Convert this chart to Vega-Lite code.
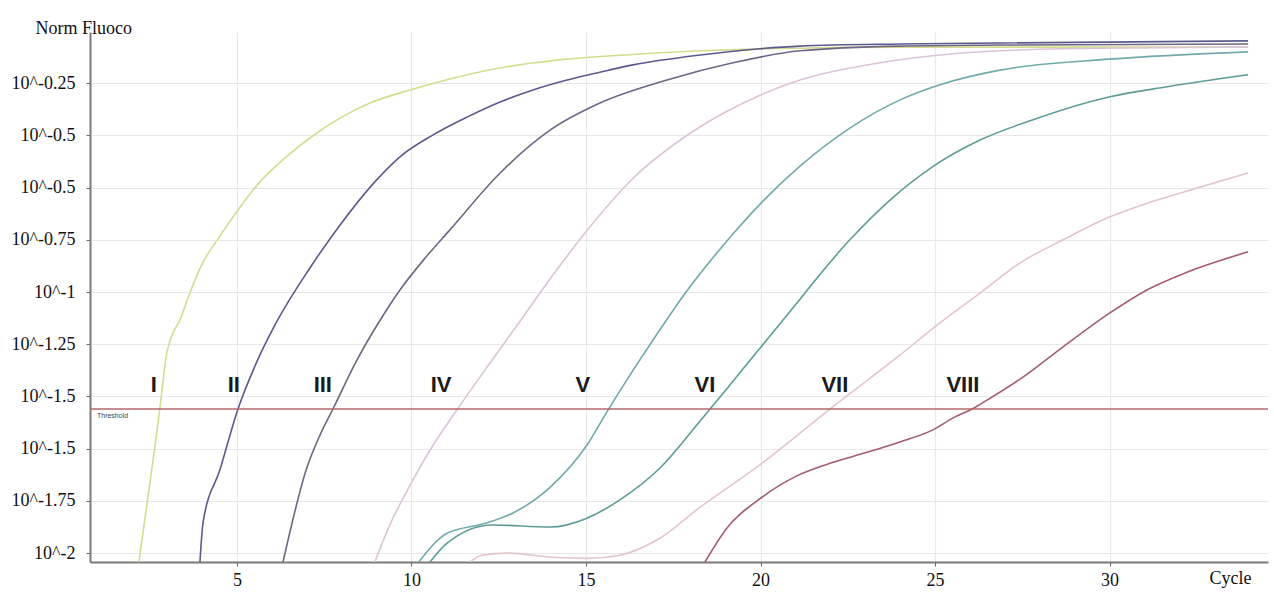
{
  "$schema": "https://vega.github.io/schema/vega-lite/v6.json",
  "width": 1178,
  "height": 530,
  "autosize": "none",
  "padding": {"left": 90, "top": 32, "right": 6, "bottom": 30},
  "background": "white",
  "config": {"view": {"stroke": null}, "font": "Liberation Serif"},
  "datasets": {
    "curves": [
      {"s":"I","c":2.19,"u":-0.17},{"s":"I","c":2.79,"u":2.76},{"s":"I","c":2.99,"u":3.83},{"s":"I","c":3.40,"u":4.52},{"s":"I","c":3.65,"u":4.98},{"s":"I","c":3.99,"u":5.52},{"s":"I","c":4.51,"u":6.07},{"s":"I","c":5.03,"u":6.57},{"s":"I","c":5.66,"u":7.11},{"s":"I","c":6.38,"u":7.57},{"s":"I","c":7.09,"u":7.95},{"s":"I","c":7.95,"u":8.33},{"s":"I","c":8.81,"u":8.62},{"s":"I","c":9.96,"u":8.87},{"s":"I","c":11.10,"u":9.08},{"s":"I","c":12.05,"u":9.23},{"s":"I","c":13.40,"u":9.38},{"s":"I","c":14.46,"u":9.46},{"s":"I","c":16.35,"u":9.55},{"s":"I","c":18.27,"u":9.62},{"s":"I","c":21.13,"u":9.67},{"s":"I","c":24.0,"u":9.69},{"s":"I","c":30.5,"u":9.69},{"s":"I","c":33.97,"u":9.69},
      {"s":"II","c":3.94,"u":-0.17},{"s":"II","c":4.03,"u":0.59},{"s":"II","c":4.51,"u":1.59},{"s":"II","c":5.03,"u":2.76},{"s":"II","c":5.54,"u":3.62},{"s":"II","c":6.09,"u":4.37},{"s":"II","c":7.09,"u":5.46},{"s":"II","c":7.95,"u":6.28},{"s":"II","c":8.95,"u":7.11},{"s":"II","c":9.67,"u":7.59},{"s":"II","c":10.62,"u":8.01},{"s":"II","c":11.59,"u":8.35},{"s":"II","c":12.54,"u":8.64},{"s":"II","c":13.48,"u":8.87},{"s":"II","c":14.46,"u":9.06},{"s":"II","c":15.40,"u":9.21},{"s":"II","c":16.35,"u":9.35},{"s":"II","c":18.27,"u":9.54},{"s":"II","c":19.99,"u":9.66},{"s":"II","c":21.13,"u":9.71},{"s":"II","c":24.0,"u":9.75},{"s":"II","c":26.86,"u":9.77},{"s":"II","c":33.97,"u":9.81},
      {"s":"III","c":6.32,"u":-0.17},{"s":"III","c":7.01,"u":1.65},{"s":"III","c":7.38,"u":2.26},{"s":"III","c":7.75,"u":2.76},{"s":"III","c":8.44,"u":3.70},{"s":"III","c":9.10,"u":4.46},{"s":"III","c":9.67,"u":5.04},{"s":"III","c":10.39,"u":5.65},{"s":"III","c":11.10,"u":6.19},{"s":"III","c":12.54,"u":7.28},{"s":"III","c":13.97,"u":8.10},{"s":"III","c":15.40,"u":8.62},{"s":"III","c":17.32,"u":9.06},{"s":"III","c":19.21,"u":9.39},{"s":"III","c":21.13,"u":9.62},{"s":"III","c":24.0,"u":9.71},{"s":"III","c":26.86,"u":9.73},{"s":"III","c":33.97,"u":9.75},
      {"s":"IV","c":8.95,"u":-0.17},{"s":"IV","c":9.38,"u":0.54},{"s":"IV","c":9.96,"u":1.30},{"s":"IV","c":10.53,"u":1.97},{"s":"IV","c":11.30,"u":2.74},{"s":"IV","c":12.25,"u":3.64},{"s":"IV","c":13.11,"u":4.44},{"s":"IV","c":13.97,"u":5.25},{"s":"IV","c":14.97,"u":6.13},{"s":"IV","c":16.35,"u":7.18},{"s":"IV","c":18.07,"u":8.08},{"s":"IV","c":19.99,"u":8.77},{"s":"IV","c":21.13,"u":9.06},{"s":"IV","c":23.42,"u":9.39},{"s":"IV","c":25.14,"u":9.54},{"s":"IV","c":26.86,"u":9.62},{"s":"IV","c":29.73,"u":9.67},{"s":"IV","c":33.97,"u":9.69},
      {"s":"V","c":10.21,"u":-0.17},{"s":"V","c":11.02,"u":0.38},{"s":"V","c":12.11,"u":0.57},{"s":"V","c":12.91,"u":0.77},{"s":"V","c":13.97,"u":1.26},{"s":"V","c":15.03,"u":2.07},{"s":"V","c":15.63,"u":2.74},{"s":"V","c":16.26,"u":3.41},{"s":"V","c":16.98,"u":4.14},{"s":"V","c":17.78,"u":4.92},{"s":"V","c":19.21,"u":6.11},{"s":"V","c":20.07,"u":6.74},{"s":"V","c":21.13,"u":7.41},{"s":"V","c":22.56,"u":8.14},{"s":"V","c":24.0,"u":8.68},{"s":"V","c":25.14,"u":8.97},{"s":"V","c":26.86,"u":9.25},{"s":"V","c":30.01,"u":9.46},{"s":"V","c":33.97,"u":9.60},
      {"s":"VI","c":10.53,"u":-0.17},{"s":"VI","c":11.02,"u":0.19},{"s":"VI","c":12.31,"u":0.54},{"s":"VI","c":13.97,"u":0.50},{"s":"VI","c":15.03,"u":0.67},{"s":"VI","c":15.97,"u":1.02},{"s":"VI","c":17.12,"u":1.63},{"s":"VI","c":18.27,"u":2.53},{"s":"VI","c":19.21,"u":3.29},{"s":"VI","c":20.64,"u":4.46},{"s":"VI","c":22.56,"u":6.00},{"s":"VI","c":23.71,"u":6.76},{"s":"VI","c":25.0,"u":7.43},{"s":"VI","c":26.29,"u":7.91},{"s":"VI","c":27.81,"u":8.30},{"s":"VI","c":30.01,"u":8.74},{"s":"VI","c":31.65,"u":8.93},{"s":"VI","c":33.97,"u":9.16},
      {"s":"VII","c":11.68,"u":-0.17},{"s":"VII","c":12.02,"u":-0.04},{"s":"VII","c":12.74,"u":0.0},{"s":"VII","c":14.05,"u":-0.08},{"s":"VII","c":15.03,"u":-0.10},{"s":"VII","c":15.97,"u":-0.04},{"s":"VII","c":17.03,"u":0.25},{"s":"VII","c":18.27,"u":0.88},{"s":"VII","c":20.04,"u":1.72},{"s":"VII","c":21.99,"u":2.76},{"s":"VII","c":23.99,"u":3.79},{"s":"VII","c":25.14,"u":4.41},{"s":"VII","c":26.29,"u":4.98},{"s":"VII","c":27.44,"u":5.56},{"s":"VII","c":28.67,"u":6.00},{"s":"VII","c":30.01,"u":6.44},{"s":"VII","c":31.07,"u":6.70},{"s":"VII","c":32.5,"u":6.99},{"s":"VII","c":33.97,"u":7.28},
      {"s":"VIII","c":18.41,"u":-0.17},{"s":"VIII","c":19.04,"u":0.48},{"s":"VIII","c":20.04,"u":1.07},{"s":"VIII","c":21.04,"u":1.48},{"s":"VIII","c":22.08,"u":1.74},{"s":"VIII","c":23.05,"u":1.93},{"s":"VIII","c":23.99,"u":2.13},{"s":"VIII","c":24.94,"u":2.36},{"s":"VIII","c":25.52,"u":2.59},{"s":"VIII","c":26.06,"u":2.76},{"s":"VIII","c":26.49,"u":2.93},{"s":"VIII","c":27.52,"u":3.37},{"s":"VIII","c":28.67,"u":3.95},{"s":"VIII","c":30.01,"u":4.60},{"s":"VIII","c":31.07,"u":5.04},{"s":"VIII","c":32.22,"u":5.38},{"s":"VIII","c":33.97,"u":5.77}
    ],
    "numerals": [
      {"t":"I","c":2.62,"u":3.22},{"t":"II","c":4.91,"u":3.22},{"t":"III","c":7.46,"u":3.22},{"t":"IV","c":10.85,"u":3.22},{"t":"V","c":14.91,"u":3.22},{"t":"VI","c":18.41,"u":3.22},{"t":"VII","c":22.13,"u":3.22},{"t":"VIII","c":25.80,"u":3.22}
    ],
    "threshold": [{"u":2.76}],
    "thresholdLabel": [{"c":0.99,"u":2.62,"t":"Threshold"}]
  },
  "layer": [
    {
      "data": {"name": "curves"},
      "mark": {"type": "line", "strokeWidth": 1.6, "clip": true, "interpolate": "monotone"},
      "encoding": {
        "x": {"field": "c", "type": "quantitative", "scale": {"domain": [0.79, 34.54], "nice": false, "zero": false},
          "axis": {"values": [5,10,15,20,25,30], "format": "d", "title": "Cycle", "titleX": 1140, "titleY": 16, "titleAlign": "center", "titleBaseline": "middle", "titleFont": "Liberation Serif", "titleFontSize": 18, "titleFontWeight": "normal", "titleColor": "#111", "labelFont": "Liberation Serif", "labelFontSize": 18, "labelColor": "#111", "labelPadding": 5, "tickSize": 4, "tickColor": "#666", "domainColor": "#7a7a7a", "domainWidth": 2, "grid": true, "gridColor": "#e8e8e8", "gridWidth": 1.2}},
        "y": {"field": "u", "type": "quantitative", "scale": {"domain": [-0.17, 9.98], "nice": false, "zero": false},
          "axis": {"values": [0,1,2,3,4,5,6,7,8,9], "labelExpr": "['10^-2','10^-1.75','10^-1.5','10^-1.5','10^-1.25','10^-1','10^-0.75','10^-0.5','10^-0.5','10^-0.25'][datum.value]", "title": "Norm Fluoco", "titleAngle": 0, "titleX": -55, "titleY": -4, "titleAlign": "left", "titleBaseline": "middle", "titleFont": "Liberation Serif", "titleFontSize": 18, "titleFontWeight": "normal", "titleColor": "#111", "labelFont": "Liberation Serif", "labelFontSize": 18, "labelColor": "#111", "labelPadding": 11, "tickSize": 4, "tickColor": "#666", "domainColor": "#7a7a7a", "domainWidth": 2, "grid": true, "gridColor": "#e8e8e8", "gridWidth": 1.2}},
        "color": {"field": "s", "type": "nominal", "legend": null,
          "scale": {"domain": ["I","II","III","IV","V","VI","VII","VIII"], "range": ["#d5dc8f","#5b5a8c","#6f6585","#dcc3d8","#72a9ab","#5f9b96","#e3c6c9","#a35e6c"]}}
      }
    },
    {
      "data": {"name": "threshold"},
      "mark": {"type": "rule", "color": "#b4676a", "strokeWidth": 1.5},
      "encoding": {"y": {"field": "u", "type": "quantitative"}}
    },
    {
      "data": {"name": "thresholdLabel"},
      "mark": {"type": "text", "align": "left", "baseline": "middle", "fontSize": 7, "font": "Liberation Sans", "color": "#444"},
      "encoding": {
        "x": {"field": "c", "type": "quantitative"},
        "y": {"field": "u", "type": "quantitative"},
        "text": {"field": "t"}
      }
    },
    {
      "data": {"name": "numerals"},
      "mark": {"type": "text", "align": "center", "baseline": "middle", "fontSize": 22, "font": "Liberation Sans", "fontWeight": "bold", "color": "#1a1a1a"},
      "encoding": {
        "x": {"field": "c", "type": "quantitative"},
        "y": {"field": "u", "type": "quantitative"},
        "text": {"field": "t"}
      }
    }
  ]
}
